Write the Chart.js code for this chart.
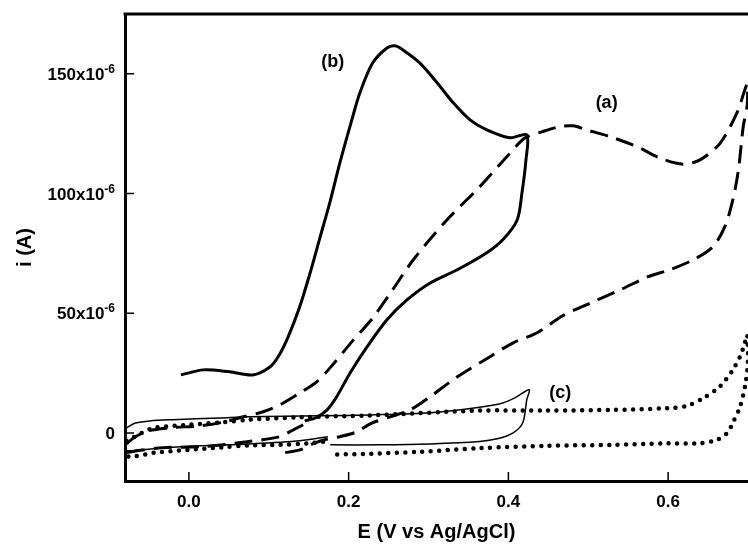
<!DOCTYPE html>
<html>
<head>
<meta charset="utf-8">
<script src="https://cdn.jsdelivr.net/npm/chart.js@4.4.1/dist/chart.umd.min.js"></script>
<style>
  body { margin: 0; background: #fff; }
</style>
</head>
<body>
<canvas id="cv" width="748" height="547"></canvas>
<script>
// E en V vs Ag/AgCl, i en 1e-6 A

// (a) tirets
const aE = [0.143, 0.126, 0.114, 0.073, 0.020, -0.033, -0.065, -0.079,
  -0.078, -0.055, -0.024, 0.014, 0.045, 0.068, 0.093, 0.114, 0.139, 0.160, 0.180, 0.205,
  0.230, 0.255, 0.281, 0.323, 0.364, 0.398, 0.421, 0.443, 0.465, 0.481, 0.498, 0.527,
  0.561, 0.590, 0.619, 0.640, 0.665, 0.686, 0.696, 0.699,
  0.699, 0.694, 0.688, 0.681, 0.671, 0.656, 0.631, 0.602, 0.574, 0.540, 0.506, 0.468,
  0.436, 0.406, 0.377, 0.336, 0.302, 0.277, 0.252, 0.227, 0.210, 0.189, 0.170, 0.155,
  0.139, 0.118];
const aI = [3.5, 0.5, -1.5, -3.6, -5.6, -6.1, -7.4, -7.8,
  -4.5, 0.5, 2.2, 3.0, 4.7, 6.8, 8.9, 11.8, 16.8, 21.4, 28.5, 38.5,
  48, 59.8, 72.4, 89, 102.8, 115.4, 123.3, 125.9, 128, 128.3, 126.6, 123.8,
  119.6, 114.8, 112.3, 114.1, 121, 133.6, 143.3, 145.8,
  137, 127.9, 109.9, 97.4, 86.2, 77.8, 72.3, 68.2, 65.2, 59.8, 54.8, 49,
  41.9, 37.7, 31.9, 23.5, 15.2, 9.7, 6.8, 3.9, 0.5, -1.5, -2.8, -4.5,
  -7, -8.3];

// (b) trait epais
const bE = [-0.010, 0.018, 0.051, 0.080, 0.101, 0.112, 0.124, 0.138, 0.151, 0.164,
  0.177, 0.189, 0.204, 0.214, 0.230, 0.248, 0.258, 0.268, 0.289, 0.311, 0.331,
  0.352, 0.373, 0.402, 0.423,
  0.422, 0.417, 0.411, 0.393, 0.373, 0.336, 0.302, 0.273, 0.248, 0.223, 0.202,
  0.185, 0.173, 0.159, 0.145];
const bI = [24.3, 26.4, 25.6, 24.3, 27.5, 32, 40, 52, 66, 81.5,
  97, 112.8, 130.8, 142, 154.5, 160.8, 161.7, 160, 154.6, 146.2, 137.9,
  130.8, 126.6, 123.3, 124.5,
  114.1, 100.3, 89, 80.7, 75.3, 68.2, 62.7, 55.6, 47.3, 36, 25.2,
  15.2, 9.7, 6.4, 5.1];

// trait fin
const cE = [0.174, 0.139, 0.076, 0.014, -0.030, -0.078, -0.080,
  -0.080, -0.074, -0.067, -0.049, -0.021, 0.039, 0.075, 0.164, 0.227, 0.302, 0.364,
  0.393, 0.408, 0.426,
  0.423, 0.418, 0.406, 0.386, 0.364, 0.302, 0.239, 0.177];
const cI = [-1.5, -3.2, -4.5, -5.3, -6.1, -7.4, -6,
  1.4, 3.0, 4.2, 5.1, 5.6, 6.3, 6.8, 7.2, 7.6, 8.5, 10.8,
  12.6, 14.7, 18.1,
  13.9, 4.3, 0.1, -2.4, -3.5, -4.5, -4.9, -4.9];

// pointilles
const dE = [0.168, 0.148, 0.114, 0.075, 0.041, 0.000, -0.043, -0.075, -0.080,
  -0.079, -0.071, -0.059, -0.043, 0.000, 0.041, 0.076, 0.139, 0.227, 0.364, 0.448,
  0.531, 0.599, 0.624, 0.644, 0.665, 0.681, 0.691, 0.696, 0.699,
  0.700, 0.697, 0.690, 0.681, 0.674, 0.661, 0.640, 0.594, 0.531, 0.448, 0.364,
  0.289, 0.227, 0.180];
const dI = [-3.6, -4.3, -4.9, -5.1, -6, -7, -8.2, -9.8, -7,
  -3.5, -2, 0.1, 2.2, 3.5, 4.5, 5.6, 6.6, 7.4, 9.4, 9.4,
  9.7, 10.4, 11.4, 14.6, 19.5, 26.4, 32.7, 37.7, 41,
  30.6, 21, 11, 4.3, 0.1, -2.8, -4.2, -4.3, -4.9, -5.3, -6.3,
  -7.8, -8.6, -9.0];

const xTicks = [0, 0.2, 0.4, 0.6];
const yTicks = [0, 50, 100, 150];

const noteText = ["(a)", "(b)", "(c)"];
const noteE = [0.523, 0.180, 0.465];
const noteI = [137.9, 155, 16.8];

const FONT = "'Liberation Sans', Arial, sans-serif";
Chart.defaults.font.family = FONT;
Chart.defaults.color = "#000";

function pts(E, I) {
  return E.map((e, k) => ({ x: e, y: I[k] }));
}

// cadre du haut, graduations vers l'interieur, etiquettes de l'axe y avec exposant, (a) (b) (c)
const frame = {
  id: "frame",
  afterDatasetsDraw(chart) {
    const { ctx, chartArea: a, scales: { x, y } } = chart;
    ctx.save();
    ctx.strokeStyle = "#000";
    ctx.fillStyle = "#000";
    ctx.lineWidth = 3;
    ctx.beginPath();
    ctx.moveTo(a.left - 1.5, a.top);
    ctx.lineTo(a.right, a.top);
    ctx.stroke();

    ctx.lineWidth = 1.5;
    ctx.beginPath();
    xTicks.forEach(v => {
      const px = x.getPixelForValue(v);
      ctx.moveTo(px, a.bottom);
      ctx.lineTo(px, a.bottom - 9);
    });
    yTicks.forEach(v => {
      const py = y.getPixelForValue(v);
      ctx.moveTo(a.left, py);
      ctx.lineTo(a.left + 9, py);
    });
    ctx.stroke();

    // etiquettes y : "150x10" + exposant "-6"
    ctx.textAlign = "right";
    ctx.textBaseline = "alphabetic";
    const right = a.left - 10;
    yTicks.forEach(v => {
      const py = y.getPixelForValue(v);
      if (v === 0) {
        ctx.font = "bold 17px " + FONT;
        ctx.fillText("0", right, py + 6);
        return;
      }
      ctx.font = "bold 12px " + FONT;
      const supW = ctx.measureText("-6").width;
      ctx.fillText("-6", right, py - 1);
      ctx.font = "bold 17px " + FONT;
      ctx.fillText(v + "x10", right - supW, py + 6);
    });

    ctx.font = "bold 18px " + FONT;
    ctx.textAlign = "center";
    ctx.textBaseline = "middle";
    noteText.forEach((t, k) => {
      ctx.fillText(t, x.getPixelForValue(noteE[k]), y.getPixelForValue(noteI[k]));
    });
    ctx.restore();
  }
};

const line = (data, extra) => Object.assign({
  data: data,
  showLine: true,
  pointRadius: 0,
  borderColor: "#000",
  backgroundColor: "#000",
  fill: false,
  tension: 0.3
}, extra);

new Chart(document.getElementById("cv"), {
  type: "scatter",
  data: {
    datasets: [
      line(pts(dE, dI), { borderWidth: 4.5, borderDash: [0, 8.5], borderCapStyle: "round" }),
      line(pts(cE, cI), { borderWidth: 1.5 }),
      line(pts(aE, aI), { borderWidth: 3, borderDash: [18, 9] }),
      line(pts(bE, bI), { borderWidth: 3 })
    ]
  },
  options: {
    responsive: false,
    animation: false,
    layout: { padding: { top: 14, right: 0, bottom: 0, left: 0 } },
    plugins: { legend: { display: false }, tooltip: { enabled: false } },
    scales: {
      x: {
        type: "linear",
        min: -0.08,
        max: 0.70,
        afterFit: s => { s.height = 66; },
        afterBuildTicks: s => { s.ticks = xTicks.map(v => ({ value: v })); },
        grid: { display: true, drawOnChartArea: false, drawTicks: false },
        border: { display: true, color: "#000", width: 3 },
        ticks: {
          padding: 11,
          font: { size: 17, weight: "bold" },
          maxRotation: 0,
          callback: v => v.toFixed(1)
        },
        title: {
          display: true,
          text: "E (V vs Ag/AgCl)",
          font: { size: 20, weight: "bold" },
          padding: { top: 0, bottom: 3 }
        }
      },
      y: {
        type: "linear",
        min: -20,
        max: 175,
        afterFit: s => { s.width = 125; },
        afterBuildTicks: s => { s.ticks = yTicks.map(v => ({ value: v })); },
        grid: { display: true, drawOnChartArea: false, drawTicks: false },
        border: { display: true, color: "#000", width: 3 },
        ticks: { display: false },
        title: {
          display: true,
          text: "i (A)",
          font: { size: 20, weight: "bold" },
          padding: { top: 13, bottom: 0 }
        }
      }
    }
  },
  plugins: [frame]
});
</script>
</body>
</html>
